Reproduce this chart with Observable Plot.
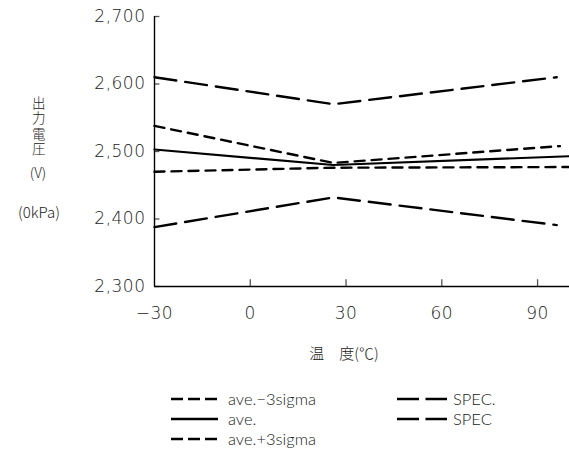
<!DOCTYPE html>
<html><head><meta charset="utf-8">
<script src="https://cdn.jsdelivr.net/npm/d3@7"></script>
<script src="https://cdn.jsdelivr.net/npm/@observablehq/plot@0.6"></script>
<style>
body{margin:0;background:#fff;font-family:"Noto Sans CJK JP","Noto Sans",sans-serif;color:#222;}
#wrap{position:relative;width:569px;height:449px;overflow:hidden;}
#wrap svg text{font-family:"DejaVu Sans","Noto Sans CJK JP",sans-serif;font-weight:200;letter-spacing:0.5px;fill:#222;}
.lab{position:absolute;font-size:14px;line-height:1;white-space:nowrap;transform:translate(-50%,-50%);font-weight:300;color:#222;}
.ylab{position:absolute;left:38px;top:96px;transform:translateX(-50%);font-size:13.5px;line-height:1;writing-mode:vertical-rl;text-orientation:upright;letter-spacing:2px;font-weight:300;color:#222;white-space:nowrap;}
.leg{position:absolute;font-family:Lato,"Noto Sans CJK JP",sans-serif;font-size:16.5px;line-height:1;display:flex;align-items:center;white-space:nowrap;font-weight:300;color:#222;}
</style></head><body>
<div id="wrap"></div>
<script>
// data
const xTicks = [-30, 0, 30, 60, 90];
const yTicks = [2300, 2400, 2500, 2600, 2700];
const tempSpec = [-30, 26, 96];
const specUpper = [2610, 2570, 2610];
const specLower = [2388, 2432, 2391];
const tempPlus = [-30, 26, 97];
const avePlus = [2538, 2483, 2508];
const tempAve = [-30, 26, 100];
const aveMid = [2503, 2480, 2493];
const aveMinus = [2470, 2476, 2477];
const legendLeft = ["ave.−3sigma", "ave.", "ave.+3sigma"];
const legendRight = ["SPEC.", "SPEC"];
const yLabelText = "出力電圧";
const yLabelV = "(V)";
const yLabelUnit = "(0kPa)";
const xLabel = "温　度(℃)";

const SHORT = "10,7", LONG = "22,9";
const toRows = (xs, ys) => xs.map((t, i) => ({t, v: ys[i]}));

const chart = Plot.plot({
  width: 569, height: 330,
  marginLeft: 154, marginRight: 0, marginTop: 16, marginBottom: 44,
  style: {fontSize: "17px", color: "#222", background: "#fff"},
  x: {domain: [-30, 100]},
  y: {domain: [2300, 2700]},
  marks: [
    Plot.axisX({ticks: xTicks, tickSize: 0, tickPadding: 20, tickFormat: d => d < 0 ? "−" + Math.abs(d) : String(d), label: null, fontSize: 17}),
    Plot.axisY({ticks: yTicks, tickSize: 0, tickPadding: 9, tickFormat: d3.format(","), label: null, fontSize: 17}),
    Plot.ruleX(xTicks.filter(d => d > -30), {x: d => d, y1: 2300, y2: 2310, stroke: "#555", strokeWidth: 1.3}),
    Plot.ruleY(yTicks, {y: d => d, x1: -30, x2: -28.3, stroke: "#555", strokeWidth: 1.3}),
    Plot.ruleX([-30], {stroke: "#000", strokeWidth: 1.4}),
    Plot.ruleY([2300], {stroke: "#000", strokeWidth: 1.4}),
    Plot.line(toRows(tempSpec, specUpper), {x: "t", y: "v", stroke: "#000", strokeWidth: 2.4, strokeDasharray: LONG}),
    Plot.line(toRows(tempSpec, specLower), {x: "t", y: "v", stroke: "#000", strokeWidth: 2.4, strokeDasharray: LONG}),
    Plot.line(toRows(tempPlus, avePlus), {x: "t", y: "v", stroke: "#000", strokeWidth: 2.4, strokeDasharray: SHORT}),
    Plot.line(toRows(tempAve, aveMid), {x: "t", y: "v", stroke: "#000", strokeWidth: 2.2}),
    Plot.line(toRows(tempAve, aveMinus), {x: "t", y: "v", stroke: "#000", strokeWidth: 2.4, strokeDasharray: SHORT})
  ]
});
const wrap = document.getElementById("wrap");
wrap.appendChild(chart);

function addLab(text, x, y, size) {
  const d = document.createElement("div");
  d.className = "lab"; d.textContent = text;
  d.style.left = x + "px"; d.style.top = y + "px";
  if (size) d.style.fontSize = size + "px";
  wrap.appendChild(d);
}
const yl = document.createElement("div");
yl.className = "ylab";
yl.textContent = yLabelText;
wrap.appendChild(yl);
addLab(yLabelV, 38, 172, 14);
addLab(yLabelUnit, 39, 211, 15);
addLab(xLabel, 344, 352, 15);

function addLeg(text, x, y, dash, symW, gap) {
  const d = document.createElement("div");
  d.className = "leg";
  d.style.left = x + "px"; d.style.top = (y - 10) + "px"; d.style.height = "20px";
  const svg = `<svg width="${symW}" height="6" style="margin-right:${gap}px"><line x1="0" x2="${symW}" y1="3" y2="3" stroke="#000" stroke-width="2.6" ${dash ? `stroke-dasharray="${dash}"` : ""}/></svg>`;
  d.innerHTML = svg + `<span>${text}</span>`;
  wrap.appendChild(d);
}
const legDash = ["12,5", null, "12,5"];
legendLeft.forEach((t, i) => addLeg(t, 171, 399 + i * 20, legDash[i], 47, 10));
legendRight.forEach((t, i) => addLeg(t, 397, 399 + i * 20, "22,6.5", 50, 6));
</script>
</body></html>
